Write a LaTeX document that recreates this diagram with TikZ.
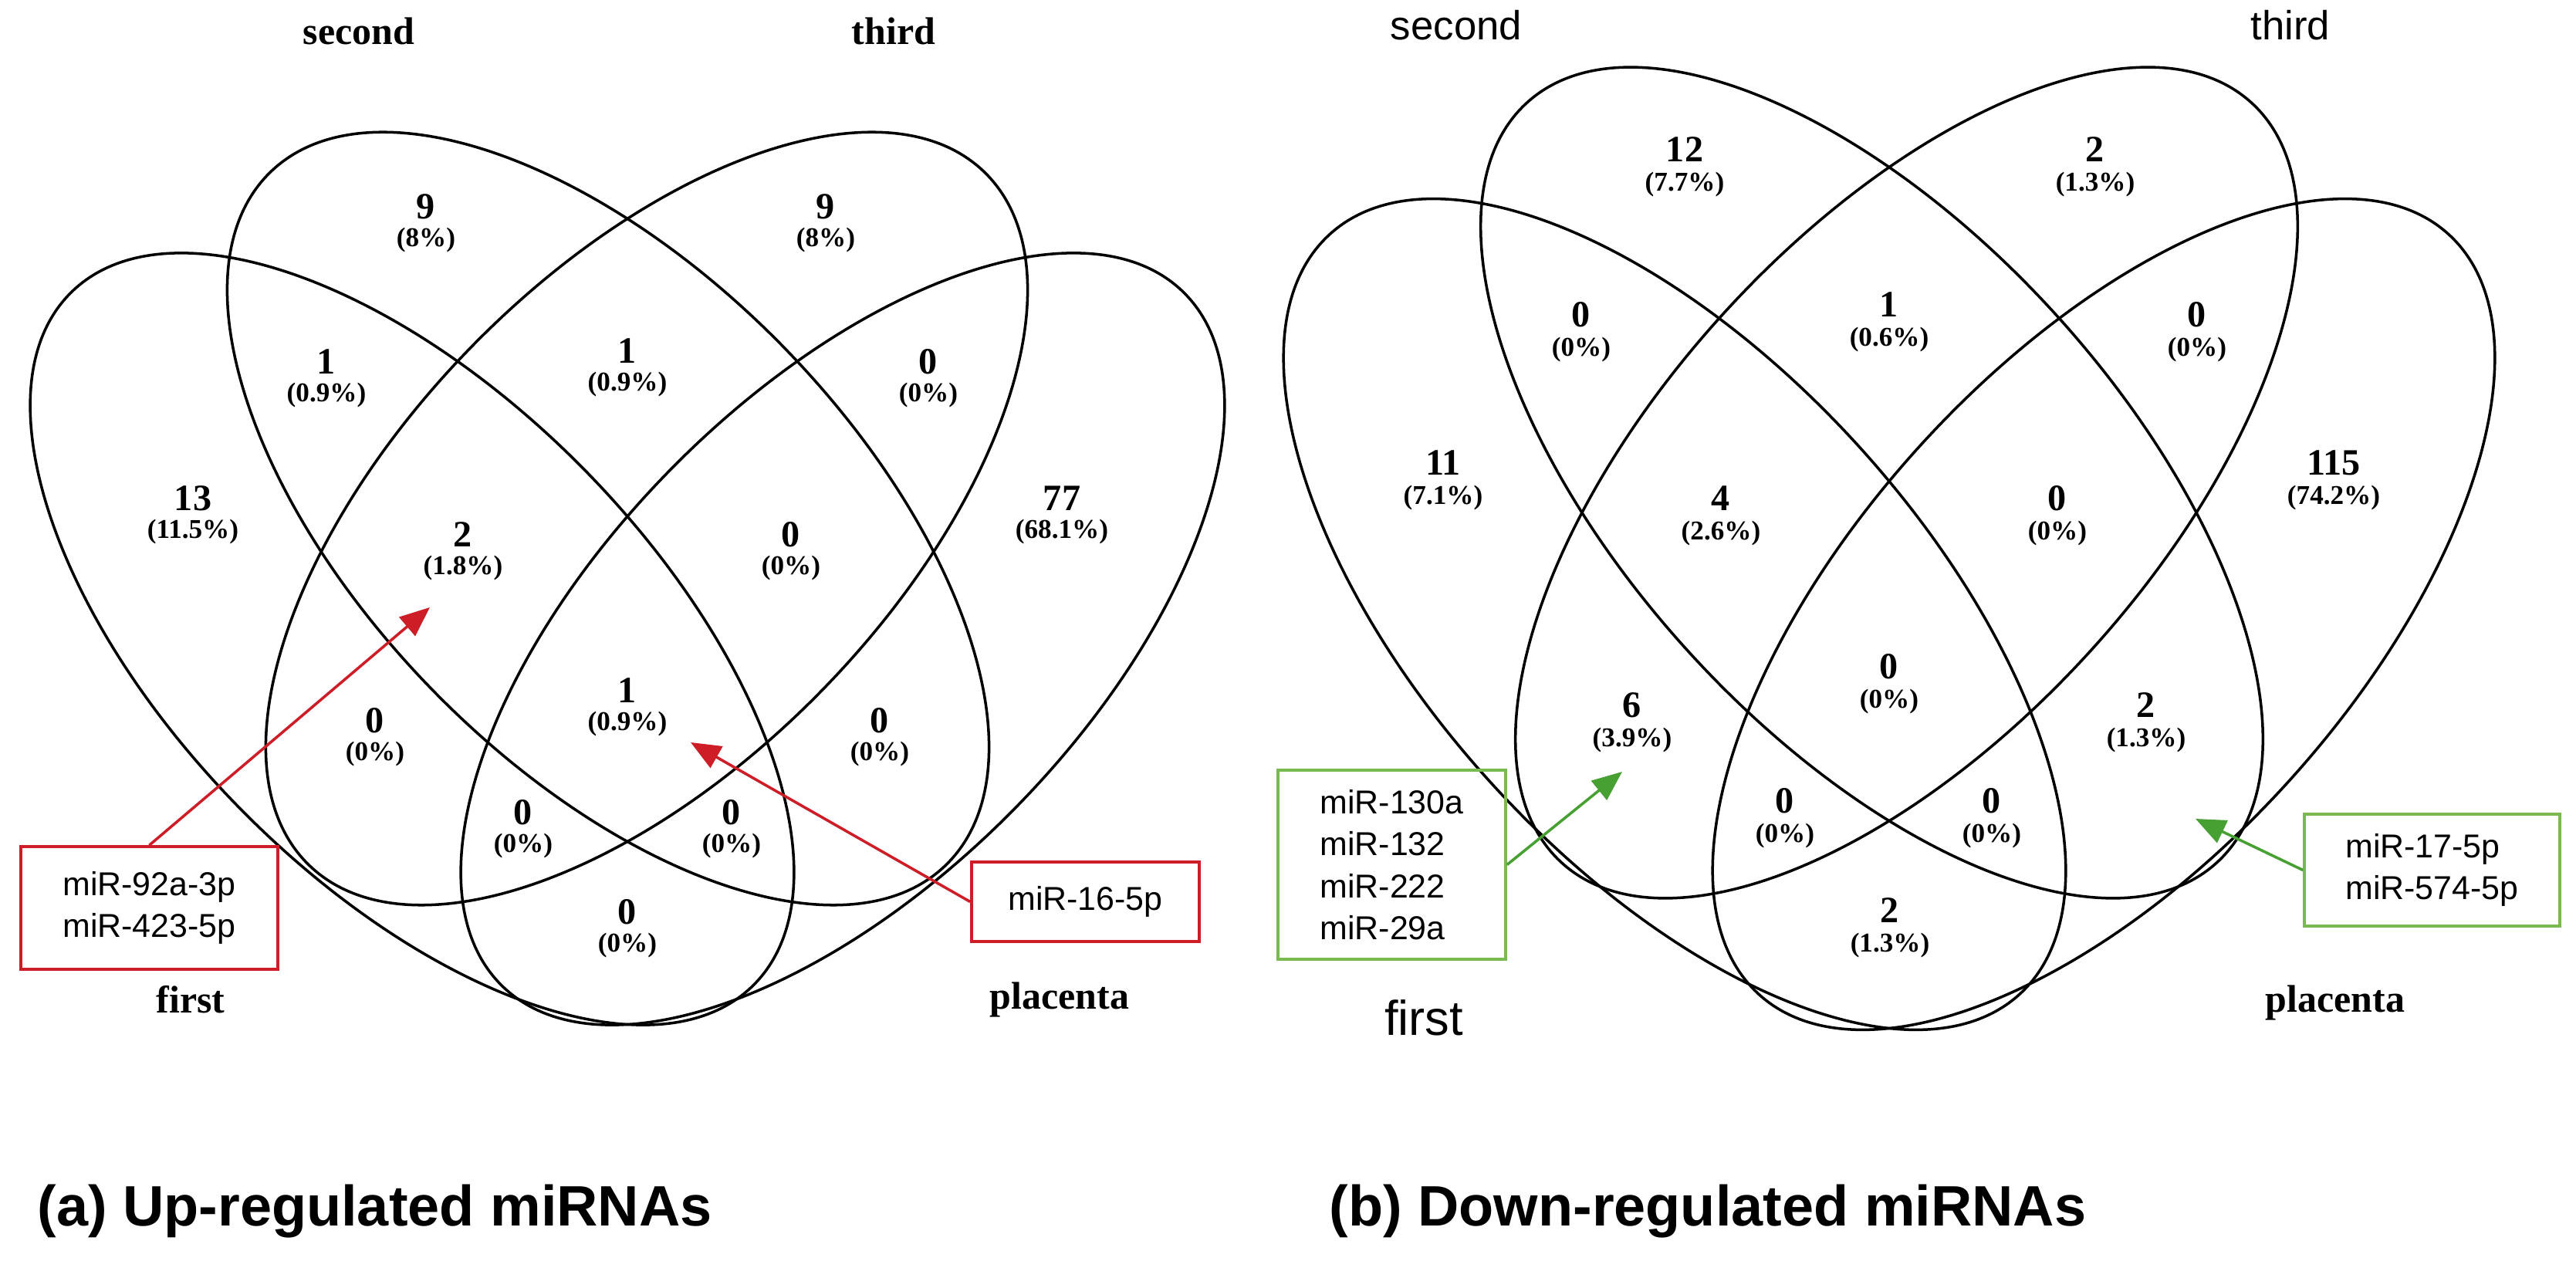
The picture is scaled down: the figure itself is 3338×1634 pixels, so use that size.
\documentclass[tikz,border=0pt]{standalone}
\usepackage{fontspec}
\setmainfont{Liberation Serif}
\newfontfamily\sansf{Liberation Sans}
\usetikzlibrary{arrows.meta}
\definecolor{boxred}{RGB}{205,30,40}
\definecolor{boxgreen}{RGB}{120,185,80}
\definecolor{arrgreen}{RGB}{70,160,50}
\begin{document}
\begin{tikzpicture}[x=0.01cm,y=0.01cm,
  venn/.style={line width=1pt,black},
  num/.style={font=\fontsize{13.7}{15}\selectfont\bfseries,inner sep=0pt},
  pct/.style={font=\fontsize{10}{11}\selectfont\bfseries,inner sep=0pt},
  lab/.style={font=\fontsize{14.2}{16}\selectfont\bfseries,inner sep=0pt},
  slab/.style={font=\sansf\fontsize{15}{17}\selectfont,inner sep=0pt},
  mbox/.style={draw,line width=1pt,font=\sansf\fontsize{12.2}{15.5}\selectfont,align=left,inner sep=0pt},
  rarr/.style={boxred,line width=1pt,-{Triangle[length=11pt,width=9pt]}},
  garr/.style={arrgreen,line width=1pt,-{Triangle[length=11pt,width=9pt]}},
  captxt/.style={font=\sansf\fontsize{21}{24}\selectfont\bfseries,inner sep=0pt,anchor=west}]
\useasboundingbox[fill=white] (0,0) rectangle (3338,-1634);
% ---------- left diagram ----------
\draw[venn,rotate around={-45.5:(534,-828)}] (534,-828) ellipse [x radius=630,y radius=313];
\draw[venn,rotate around={-45.7:(788,-672)}] (788,-672) ellipse [x radius=627,y radius=318];
\draw[venn,rotate around={45.7:(838,-672)}] (838,-672) ellipse [x radius=627,y radius=318];
\draw[venn,rotate around={45.5:(1092,-828)}] (1092,-828) ellipse [x radius=630,y radius=313];
\node[lab] (la1) at (465,-40) {second};
\node[lab] (la2) at (1158,-40) {third};
\node[lab] (la3) at (247,-1295) {first};
\node[lab] (la4) at (1373,-1295) {placenta};
\foreach \n/\x/\y/\v/\p in {a/552/268/9/8\%, b/1070/268/9/8\%, c/423/469/1/0.9\%, d/813/455/1/0.9\%, e/1203/469/0/0\%,
  f/250/646/13/11.5\%, g/1376/646/77/68.1\%, h/600/693/2/1.8\%, i/1025/693/0/0\%, j/486/934/0/0\%, k/1140/934/0/0\%,
  l/813/895/1/0.9\%, m/678/1053/0/0\%, n/948/1053/0/0\%, o/813/1182/0/0\%}{
  \node[num] (ln\n) at (\x,-\y) {\v};
  \node[pct] (lp\n) at (\x,-\y-43) {(\p)};
}
\node[mbox,boxred,text=black,minimum width=3.33cm,minimum height=1.59cm] (rb1) at (193.5,-1176.5) {miR-92a-3p\\miR-423-5p};
\node[mbox,boxred,text=black,minimum width=2.95cm,minimum height=1.03cm] (rb2) at (1406.5,-1168.5) {miR-16-5p};
\coordinate (rt1) at (557,-787);
\coordinate (rt2) at (895,-962);
\draw[rarr] (rb1.north) -- (rt1);
\draw[rarr] (rb2.west) -- (rt2);
\node[captxt] (capa) at (48,-1570) {(a) Up-regulated miRNAs};
% ---------- right diagram ----------
\draw[venn,rotate around={-47.8:(2170,-796)}] (2170,-796) ellipse [x radius=665,y radius=323];
\draw[venn,rotate around={-47.8:(2425.5,-625.5)}] (2425.5,-625.5) ellipse [x radius=665,y radius=323];
\draw[venn,rotate around={47.8:(2470.5,-625.5)}] (2470.5,-625.5) ellipse [x radius=665,y radius=323];
\draw[venn,rotate around={47.8:(2726,-796)}] (2726,-796) ellipse [x radius=665,y radius=323];
\node[slab] (rl1) at (1887,-33) {second};
\node[slab] (rl2) at (2968,-33) {third};
\node[slab,font=\sansf\fontsize{18}{20}\selectfont] (rl3) at (1845,-1319) {first};
\node[lab] (rl4) at (3026,-1299) {placenta};
\foreach \n/\x/\y/\v/\p in {a/2183/194/12/7.7\%, b/2715/194/2/1.3\%, c/2049/408/0/0\%, d/2448/395/1/0.6\%, e/2847/408/0/0\%,
  f/1870/600/11/7.1\%, g/3024/600/115/74.2\%, h/2230/646/4/2.6\%, i/2666/646/0/0\%, j/2115/914/6/3.9\%, k/2781/914/2/1.3\%,
  l/2448/864/0/0\%, m/2313/1038/0/0\%, n/2581/1038/0/0\%, o/2449/1180/2/1.3\%}{
  \node[num] (rn\n) at (\x,-\y) {\v};
  \node[pct] (rp\n) at (\x,-\y-45) {(\p)};
}
\node[mbox,boxgreen,text=black,minimum width=2.95cm,minimum height=2.45cm] (gb1) at (1803.5,-1120.5) {miR-130a\\miR-132\\miR-222\\miR-29a};
\node[mbox,boxgreen,text=black,minimum width=3.31cm,minimum height=1.45cm] (gb2) at (3151.5,-1127.5) {miR-17-5p\\miR-574-5p};
\coordinate (gt1) at (2102,-1000);
\coordinate (gt2) at (2845,-1061);
\draw[garr] (gb1.east) -- (gt1);
\draw[garr] (gb2.west) -- (gt2);
\node[captxt] (capb) at (1722,-1570) {(b) Down-regulated miRNAs};
\end{tikzpicture}
\end{document}
